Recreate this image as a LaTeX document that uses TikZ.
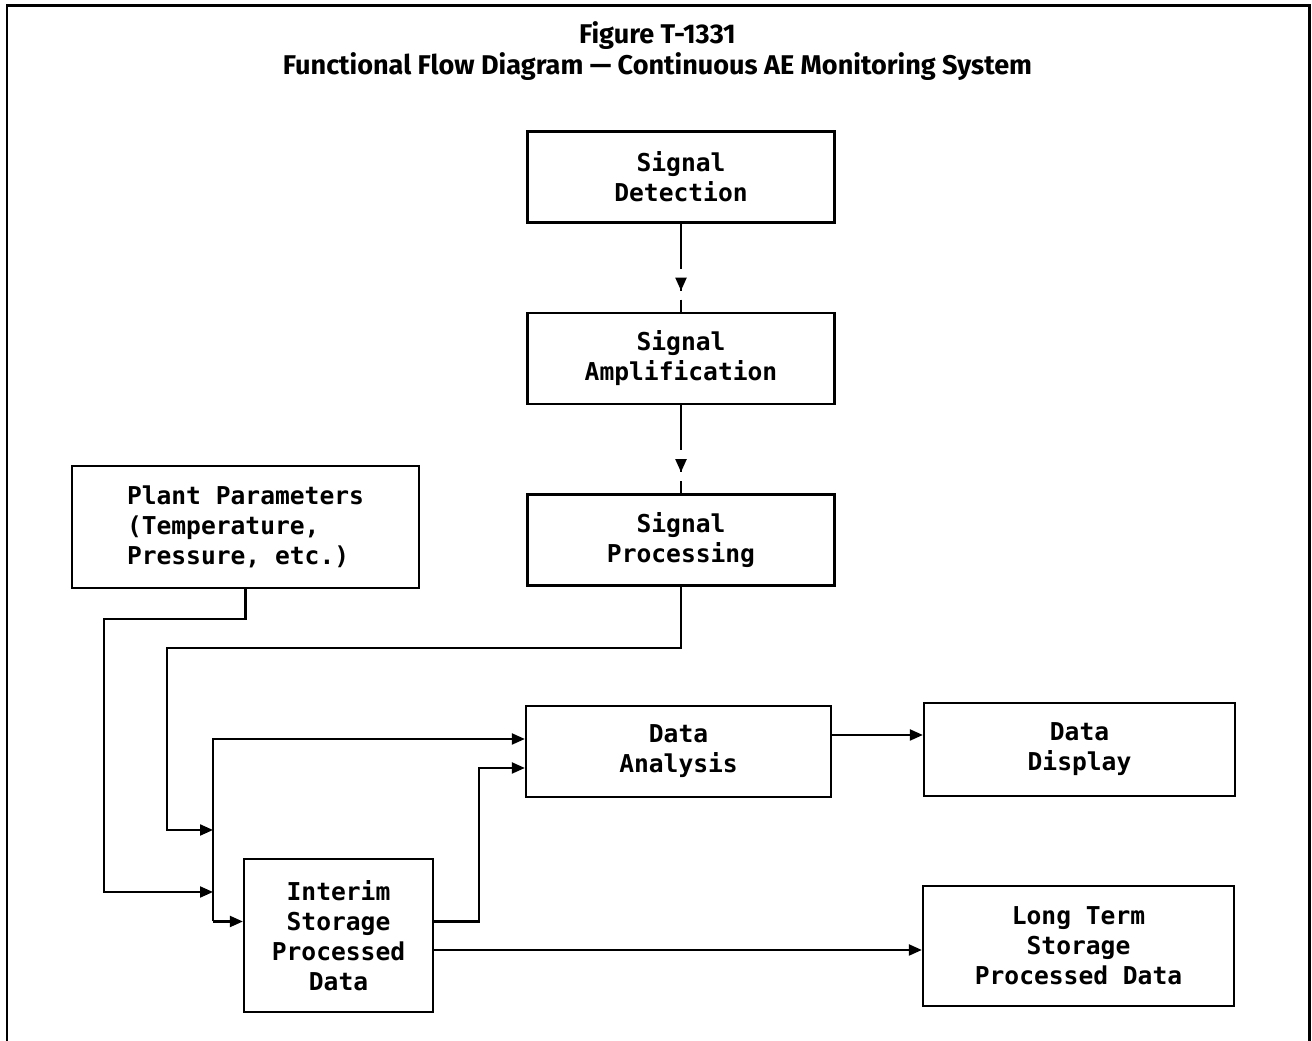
\documentclass[tikz,border=0pt]{standalone}
\usepackage{fontspec}
\usepackage{tikz}
\usetikzlibrary{arrows.meta,positioning,calc,decorations.markings}
\newfontfamily\boxfont{DejaVu Sans Mono}
\newfontfamily\headfont{Fira Sans}

\begin{document}
\begin{tikzpicture}[font=\boxfont\bfseries\fontsize{14}{17}\selectfont,
  blk/.style={draw,line width=1.3pt,minimum width=6.14cm,minimum height=1.82cm,
              inner sep=1pt,align=center},
  arr/.style={line width=1.2pt,-{Triangle[length=2.6mm,width=2.2mm]}},
  gaparr/.style={line width=1.2pt,
                 dash pattern=on 0.9cm off 0.2cm on 0.24cm off 0.18cm on 0.4cm,
                 decoration={markings,mark=at position 1.34cm with
                   {\arrow{Triangle[length=2.6mm,width=2.2mm]}}},
                 postaction={decorate}},
]
\useasboundingbox (0,0) rectangle (26.24,20.82);
% frame, open at the bottom
\draw[line width=1.7pt] (0.14,0) -- (0.14,20.7) -- (26.18,20.7) -- (26.18,0);

\node[font=\headfont\bfseries\fontsize{15.4}{17.6}\selectfont,align=center] (title)
  at (13.15,19.79) {Figure T-1331\\Functional Flow Diagram — Continuous AE Monitoring System};

% signal chain
\node[blk] (det) at (13.62,17.28) {Signal\\Detection};
\node[blk] (amp) at (13.62,13.65) {Signal\\Amplification};
\node[blk] (proc) at (13.62,10.02) {Signal\\Processing};
\draw[gaparr] (det.south) -- (amp.north);
\draw[gaparr] (amp.south) -- (proc.north);

\node[blk,minimum width=6.94cm,minimum height=2.44cm,align=left] (plant) at (4.91,10.28)
  {Plant Parameters\\(Temperature,\\Pressure, etc.)};

\node[blk,minimum width=6.1cm] (ana) at (13.57,5.79) {Data\\Analysis};
\node[blk,minimum width=6.22cm,minimum height=1.86cm] (disp) at (21.59,5.83) {Data\\Display};
\node[blk,minimum width=3.78cm,minimum height=3.06cm] (inter) at (6.77,2.11)
  {Interim\\Storage\\Processed\\Data};
\node[blk,minimum width=6.22cm,minimum height=2.4cm] (lts) at (21.57,1.90)
  {Long Term\\Storage\\Processed Data};

% bus junctions
\coordinate (jP) at (4.26,4.22);
\coordinate (jQ) at (4.26,2.98);
\coordinate (jB) at (4.26,2.39);
\coordinate (kA) at (9.58,5.46);
\coordinate (iU) at ([yshift=0.28cm]inter.east);
\coordinate (iL) at ([yshift=-0.29cm]inter.east);
\coordinate (aD) at ([yshift=0.33cm]ana.east);

\draw[arr] (proc.south) |- (3.34,7.86) |- (jP);
\draw[arr] (plant.south) |- (2.08,8.44) |- (jQ);
\draw[arr] (jB) |- ([yshift=0.25cm]ana.west);
\draw[arr] (jB) -- ([yshift=0.28cm]inter.west);
\draw[arr] (iU) -| (kA) -- (kA -| ana.west);
\draw[arr] (iL) -- (iL -| lts.west);
\draw[arr] (aD) -- (aD -| disp.west);
\end{tikzpicture}
\end{document}
